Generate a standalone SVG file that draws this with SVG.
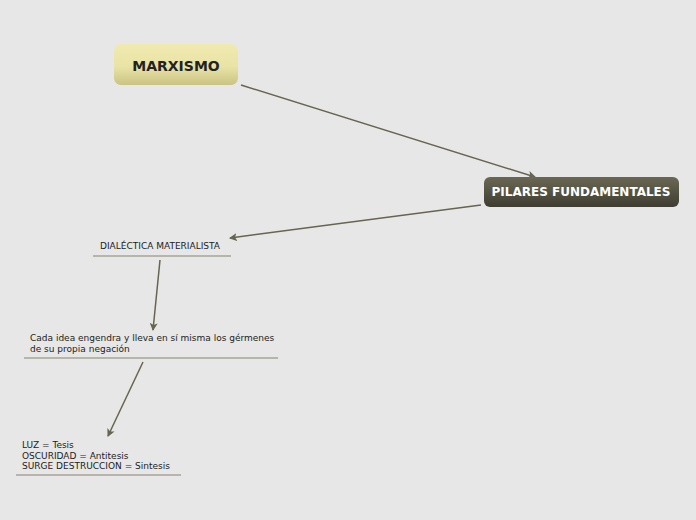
<svg xmlns="http://www.w3.org/2000/svg" width="696" height="520" viewBox="0 0 696 520">
<style>
text{font-family:"DejaVu Sans","Liberation Sans",sans-serif;fill:#222}
.sm{font-size:9px}
.ul{stroke:#86836f;stroke-width:1}
.c{stroke:#66654f;stroke-width:1.5;fill:none;marker-end:url(#a)}
</style>
<defs>
<marker id="a" markerWidth="8" markerHeight="8" refX="7" refY="4" orient="auto" markerUnits="userSpaceOnUse"><path d="M0,0 L8,4 L0,8 L2,4 Z" fill="#66654f"/></marker>
<linearGradient id="y" x1="0" y1="0" x2="0" y2="1"><stop offset="0" stop-color="#f0eab0"/><stop offset="0.55" stop-color="#e9e3a6"/><stop offset="1" stop-color="#c9c483"/></linearGradient>
<linearGradient id="d" x1="0" y1="0" x2="0" y2="1"><stop offset="0" stop-color="#6a6854"/><stop offset="1" stop-color="#3e3d30"/></linearGradient>
</defs>
<rect width="696" height="520" fill="#e7e7e7"/>
<g id="connectors">
<path class="c" d="M241,85 L535,177"/>
<path class="c" d="M481,205 L230,238"/>
<path class="c" d="M160,260 L153,330"/>
<path class="c" d="M143,362 L108,436"/>
</g>
<g id="n1"><rect x="114" y="44" width="124" height="41" rx="7" fill="url(#y)"/><text x="176" y="71" text-anchor="middle" font-size="14" font-weight="bold">MARXISMO</text></g>
<g id="n2"><rect x="484" y="177" width="195" height="30" rx="6" fill="url(#d)"/><text x="581" y="196" text-anchor="middle" font-size="12" font-weight="bold" style="fill:#fff">PILARES FUNDAMENTALES</text></g>
<g id="n3"><text x="100" y="249" class="sm">DIALÉCTICA MATERIALISTA</text><line class="ul" x1="93" y1="256" x2="231" y2="256"/></g>
<g id="n4"><text x="30" y="341" class="sm">Cada idea engendra y lleva en sí misma los gérmenes</text><text x="30" y="352" class="sm">de su propia negación</text><line class="ul" x1="24" y1="358" x2="278" y2="358"/></g>
<g id="n5"><text x="22" y="448" class="sm">LUZ = Tesis</text><text x="22" y="459" class="sm">OSCURIDAD = Antitesis</text><text x="22" y="469" class="sm"> SURGE DESTRUCCION = Sintesis</text><line class="ul" x1="16" y1="475" x2="181" y2="475"/></g>
</svg>
